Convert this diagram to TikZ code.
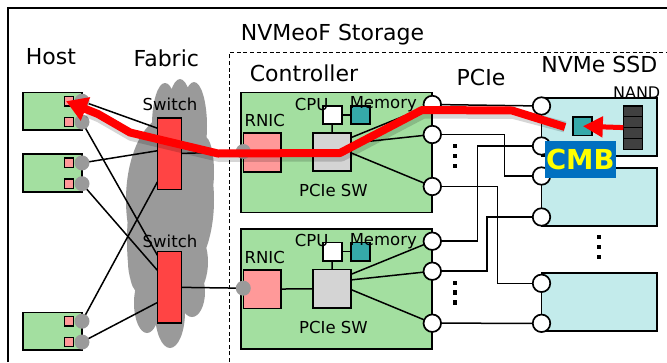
\documentclass[tikz,border=0pt]{standalone}
\usepackage{fontspec}
\setmainfont{DejaVu Sans}
\usetikzlibrary{arrows.meta}

\pgfdeclarelayer{bglayer}
\pgfdeclarelayer{wirelayer}
\pgfdeclarelayer{boxlayer}
\pgfdeclarelayer{innerlayer}
\pgfdeclarelayer{toplayer}
\pgfsetlayers{bglayer,wirelayer,boxlayer,innerlayer,main,toplayer}

\definecolor{hostgreen}{HTML}{A3DFA0}
\definecolor{pinkbox}{HTML}{FF9999}
\definecolor{switchred}{HTML}{FF4444}
\definecolor{cloudgray}{HTML}{9A9A9A}
\definecolor{swgray}{HTML}{D4D4D4}
\definecolor{memteal}{HTML}{35A9A9}
\definecolor{ssdcyan}{HTML}{C3EBEB}
\definecolor{nanddark}{HTML}{404040}
\definecolor{cmbblue}{HTML}{0070C0}
\definecolor{cmbyellow}{HTML}{FFFF00}

\tikzset{
  biglabel/.style={font=\fontsize{22}{26}\selectfont, inner sep=0pt, anchor=base},
  smalllabel/.style={font=\fontsize{16.5}{19}\selectfont, inner sep=0pt, anchor=base},
  blk/.style={draw=black, line width=1.7pt, inner sep=0pt, outer sep=0pt},
  hostbox/.style={blk, fill=hostgreen, minimum width=58.4pt, minimum height=37.7pt},
  hostchip/.style={blk, line width=1.4pt, fill=pinkbox, minimum size=9.5pt},
  hostport/.style={circle, fill=cloudgray, inner sep=0pt, minimum size=15pt},
  switchbox/.style={blk, fill=switchred, minimum width=24pt, minimum height=71.5pt},
  ctrlbox/.style={blk, fill=hostgreen, minimum width=191.6pt, minimum height=120pt},
  rnicbox/.style={blk, fill=pinkbox, minimum width=37.7pt, minimum height=38.4pt},
  pciesw/.style={blk, fill=swgray, minimum width=38pt, minimum height=38.3pt},
  cpubox/.style={blk, fill=white, minimum width=19.3pt, minimum height=18.3pt},
  membox/.style={blk, fill=memteal, minimum width=19pt, minimum height=18.3pt},
  pcieport/.style={circle, draw=black, line width=1.7pt, fill=white, inner sep=0pt, minimum size=17.5pt},
  ssdbox/.style={blk, fill=ssdcyan, minimum width=115.5pt, minimum height=58pt},
  nandcell/.style={blk, line width=1.3pt, fill=nanddark, minimum width=19pt, minimum height=10.8pt},
  wire/.style={draw=black, line width=1.5pt},
  flow/.style={draw=red, line width=8pt, line join=round},
}

\begin{document}
\begin{tikzpicture}[x=1pt,y=-1pt]
\useasboundingbox (0,0) rectangle (667,362);

% ---------- background, frames and the fabric cloud ----------
\begin{pgfonlayer}{bglayer}
  \fill[white] (0,0) rectangle (667,362);
  \draw[line width=2pt] (8.3,362) -- (8.3,8.3) -- (667,8.3);
  \draw[line width=1.5pt, dash pattern=on 4pt off 2.6pt] (229.5,362) -- (229.5,52.5) -- (667,52.5);
  \fill[cloudgray]
    (165,125) ellipse [x radius=13pt, y radius=42pt]
    (180,122) ellipse [x radius=13pt, y radius=43pt]
    (194,126) ellipse [x radius=13pt, y radius=44pt]
    (170,200) ellipse [x radius=44pt, y radius=85pt]
    (205,172) ellipse [x radius=9pt, y radius=35pt]
    (168,262) ellipse [x radius=40pt, y radius=50pt]
    (147,303) ellipse [x radius=13pt, y radius=30pt]
    (170,312) ellipse [x radius=15pt, y radius=36pt]
    (192,292) ellipse [x radius=13pt, y radius=25pt]
    (136,240) ellipse [x radius=9pt, y radius=50pt];
\end{pgfonlayer}

% ---------- titles ----------
\node[biglabel] (tstorage) at (332.5,40.5) {NVMeoF Storage};
\node[biglabel] (thost) at (51,64) {Host};
\node[biglabel] (tfabric) at (166.3,66.7) {Fabric};
\node[biglabel] (tctrl) at (304,81.7) {Controller};
\node[biglabel] (tpcie) at (481,85) {PCIe};
\node[biglabel] (tssd) at (599.3,72.7) {NVMe SSD};

% ---------- hosts ----------
\foreach \i/\y in {1/111.2,2/172.9,3/331.2}{
  \begin{pgfonlayer}{boxlayer}
    \node[hostbox] (host\i) at (52.5,\y) {};
  \end{pgfonlayer}
  \node[hostchip] (chipa\i) at (69,\y-10) {};
  \node[hostchip] (chipb\i) at (69,\y+10.8) {};
  \node[hostport] (hpa\i) at (82,\y-10) {};
  \node[hostport] (hpb\i) at (82,\y+10.8) {};
}

% ---------- fabric switches ----------
\node[switchbox] (sw1) at (169.5,153.8) {};
\node[switchbox] (sw2) at (169.5,287.2) {};
\node[smalllabel] (swl1) at (170,110) {Switch};
\node[smalllabel] (swl2) at (170,247.3) {Switch};

% ---------- controllers ----------
\foreach \i/\d in {1/0,2/136.7}{
  \begin{pgfonlayer}{boxlayer}
    \node[ctrlbox] (ctrl\i) at (336.5,152.5+\d) {};
  \end{pgfonlayer}
  \node[rnicbox] (rnic\i) at (262.2,152.5+\d) {};
  \node[pciesw] (psw\i) at (331.7,151.9+\d) {};
  \node[cpubox] (cpu\i) at (332.3,114.9+\d) {};
  \node[membox] (mem\i) at (360.5,114.9+\d) {};
  \node[hostport] (rp\i) at (243.3,151.5+\d) {};
  \node[pcieport] (cpa\i) at (432.3,104.5+\d) {};
  \node[pcieport] (cpb\i) at (432.3,134.5+\d) {};
  \node[pcieport] (cpc\i) at (432.3,186.5+\d) {};
  \node[smalllabel] (lrnic\i) at (264.7,126.7+\d) {RNIC};
  \node[smalllabel] (lcpu\i) at (311.7,110+\d) {CPU};
  \node[smalllabel] (lmem\i) at (383.3,108.3+\d) {Memory};
  \node[smalllabel] (lsw\i) at (333.5,196.7+\d) {PCIe SW};
  \begin{pgfonlayer}{innerlayer}
    \draw[wire] (rnic\i.center) -- (psw\i.center);
    \draw[wire] (cpu\i.center) -- (psw\i.center);
    \draw[wire] (cpu\i.center) -- (mem\i.center);
    \draw[wire] ([yshift=-5pt]psw\i.north east) -- (cpa\i.center);
    \draw[wire] ([yshift=-10.5pt]psw\i.north east) -- (cpb\i.center);
    \draw[wire] ([yshift=-20pt]psw\i.north east) -- (cpc\i.center);
  \end{pgfonlayer}
}

% ---------- NVMe SSDs ----------
\begin{pgfonlayer}{boxlayer}
  \node[ssdbox] (ssd1) at (599.25,127) {};
  \node[ssdbox] (ssd2) at (599.25,197) {};
  \node[ssdbox] (ssd3) at (599.25,302) {};
\end{pgfonlayer}
\node[pcieport] (sp1) at (541.5,106) {};
\node[pcieport] (sp2) at (541.5,146) {};
\node[pcieport] (sp3) at (541.5,176) {};
\node[pcieport] (sp4) at (541.5,217) {};
\node[pcieport] (sp5) at (541.5,283.3) {};
\node[pcieport] (sp6) at (541.5,323.3) {};

\node[membox] (cmbbuf) at (582.8,126.2) {};
\node[nandcell] (nand1) at (632.8,111.4) {};
\node[nandcell] (nand2) at (632.8,122.2) {};
\node[nandcell] (nand3) at (632.8,133.0) {};
\node[nandcell] (nand4) at (632.8,143.8) {};
\node[font=\fontsize{16}{19}\selectfont, inner sep=0pt, anchor=base] (lnand) at (636.7,98.3) {NAND};

% ellipsis marks
\foreach \x/\y in {455/146,455/156,455/166,455/283,455/292.5,455/302.5,599/237,599/247,599/257}{
  \fill (\x-2.4,\y-2.4) rectangle (\x+2.4,\y+2.4);
}

% ---------- connections ----------
\begin{pgfonlayer}{wirelayer}
  \draw[wire] (hpa1.center) -- ([yshift=-10.2pt]sw1.north west);
  \draw[wire] (hpb1.center) -- ([yshift=-4pt]sw2.north west);
  \draw[wire] (hpa2.center) -- ([yshift=-32.7pt]sw1.north west);
  \draw[wire] (hpb2.center) -- ([yshift=-19pt]sw2.north west);
  \draw[wire] (hpa3.center) -- ([yshift=-63.7pt]sw1.north west);
  \draw[wire] (hpb3.center) -- ([yshift=-51pt]sw2.north west);
  \draw[wire] (sw1.center) -- (rp1.center);
  \draw[wire] (sw2.center) -- (rp2.center);
  \draw[wire] (cpa1.center) -- (sp1.center);
  \draw[wire] (cpb1.center) -- ++(72,0) |- (sp3.center);
  \draw[wire] (cpc1.center) -- ++(65,0) |- (sp5.center);
  \draw[wire] (cpa2.center) -- ++(45,0) |- (sp2.center);
  \draw[wire] (cpb2.center) -- ++(54.5,0) |- (sp4.center);
  \draw[wire] (cpc2.center) -- (sp6.center);
\end{pgfonlayer}

% ---------- data path through the controller memory buffer ----------
\begin{pgfonlayer}{toplayer}
  \coordinate (cmbfrom) at (565,127);
  \draw[black, opacity=0.16, line width=11pt, line join=round, xshift=1.5pt, yshift=-3pt]
    (cmbfrom) -- (512,110.5) -- (422,110) -- (340,153) -- (218,153.5) -- (130,132.5) -- (98,114) -- (86,109);
  \draw[flow, -{Triangle[length=21pt,width=24pt]}]
    (cmbfrom) -- (512,110.5) -- (422,110) -- (340,153) -- (218,153.5) -- (130,132.5) -- (98,114) -- ([xshift=-3pt]chipa1.center);
  \draw[draw=red, line width=5pt, -{Triangle[length=20pt,width=20pt]}] (nand2.south west) -- (cmbbuf.center);
  \node[fill=cmbblue, text=cmbyellow, font=\bfseries\fontsize{27.5}{30}\selectfont,
        minimum width=70.7pt, minimum height=36.3pt, inner sep=0pt] (cmbtag) at (580.3,159.5) {CMB};
\end{pgfonlayer}
\end{tikzpicture}
\end{document}
